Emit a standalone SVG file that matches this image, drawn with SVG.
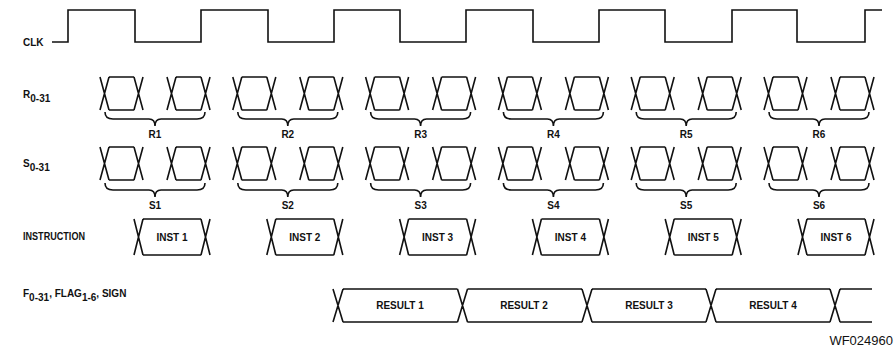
<svg xmlns="http://www.w3.org/2000/svg" width="895" height="350" viewBox="0 0 895 350">
<style>
.w{fill:none;stroke:#111;stroke-width:1.6;stroke-linejoin:miter}
.t{font-family:"Liberation Sans",Arial,sans-serif;font-weight:bold;font-size:10px;fill:#111}
.c{text-anchor:middle}
.id{font-family:"Liberation Sans",Arial,sans-serif;font-size:13px;fill:#111;text-anchor:end}
</style>
<defs>
<path id="cell" class="w" d="M0,0 L9,33 M9,0 L0,33 M9,0 H34 M9,33 H34 M34,0 L43,33 M43,0 L34,33"/>
<path id="brace" class="w" d="M0,0 Q0,7 8,7 H44 Q50,7 50,14 Q50,7 56,7 H92 Q100,7 100,0"/>
<path id="inst" class="w" d="M0,0 L9,36 M9,0 L0,36 M9,0 H67 M9,36 H67 M67,0 L76,36 M76,0 L67,36"/>
</defs>

<g id="labels">
<text class="t" x="23" y="46">CLK</text>
<text class="t" x="23" y="98" font-size="11">R<tspan dy="4" font-size="10">0-31</tspan></text>
<text class="t" x="23" y="167" font-size="11">S<tspan dy="4" font-size="10">0-31</tspan></text>
<text class="t" x="23" y="240" textLength="62" lengthAdjust="spacingAndGlyphs">INSTRUCTION</text>
<text class="t" x="23" y="297">F<tspan dy="4">0-31</tspan><tspan dy="-4">, FLAG</tspan><tspan dy="4">1-6</tspan><tspan dy="-4">, SIGN</tspan></text>
<text class="id" x="893" y="345">WF024960</text>
</g>

<g id="clk">
<path class="w" d="M52,42 H68 V10 H135 V42 H201 V10 H268 V42 H334 V10 H400 V42 H466 V10 H533 V42 H599 V10 H665 V42 H732 V10 H797 V42 H865 V10 H882"/>
</g>

<g id="r-row">
<use href="#cell" x="100" y="77"/><use href="#cell" x="167" y="77"/>
<use href="#cell" x="232.8" y="77"/><use href="#cell" x="299.8" y="77"/>
<use href="#cell" x="365.6" y="77"/><use href="#cell" x="432.6" y="77"/>
<use href="#cell" x="498.4" y="77"/><use href="#cell" x="565.4" y="77"/>
<use href="#cell" x="631.2" y="77"/><use href="#cell" x="698.2" y="77"/>
<use href="#cell" x="764" y="77"/><use href="#cell" x="831" y="77"/>
<use href="#brace" x="105" y="112"/><use href="#brace" x="237.8" y="112"/><use href="#brace" x="370.6" y="112"/>
<use href="#brace" x="503.4" y="112"/><use href="#brace" x="636.2" y="112"/><use href="#brace" x="769" y="112"/>
<text class="t c" x="155" y="138">R1</text><text class="t c" x="287.8" y="138">R2</text><text class="t c" x="420.6" y="138">R3</text>
<text class="t c" x="553.4" y="138">R4</text><text class="t c" x="686.2" y="138">R5</text><text class="t c" x="819" y="138">R6</text>
</g>

<g id="s-row">
<use href="#cell" x="100" y="147"/><use href="#cell" x="167" y="147"/>
<use href="#cell" x="232.8" y="147"/><use href="#cell" x="299.8" y="147"/>
<use href="#cell" x="365.6" y="147"/><use href="#cell" x="432.6" y="147"/>
<use href="#cell" x="498.4" y="147"/><use href="#cell" x="565.4" y="147"/>
<use href="#cell" x="631.2" y="147"/><use href="#cell" x="698.2" y="147"/>
<use href="#cell" x="764" y="147"/><use href="#cell" x="831" y="147"/>
<use href="#brace" x="105" y="183"/><use href="#brace" x="237.8" y="183"/><use href="#brace" x="370.6" y="183"/>
<use href="#brace" x="503.4" y="183"/><use href="#brace" x="636.2" y="183"/><use href="#brace" x="769" y="183"/>
<text class="t c" x="155" y="209">S1</text><text class="t c" x="287.8" y="209">S2</text><text class="t c" x="420.6" y="209">S3</text>
<text class="t c" x="553.4" y="209">S4</text><text class="t c" x="686.2" y="209">S5</text><text class="t c" x="819" y="209">S6</text>
</g>

<g id="inst-row">
<use href="#inst" x="134" y="219"/><use href="#inst" x="266.8" y="219"/><use href="#inst" x="399.6" y="219"/>
<use href="#inst" x="532.4" y="219"/><use href="#inst" x="665.2" y="219"/><use href="#inst" x="798" y="219"/>
<text class="t c" x="172" y="241">INST 1</text><text class="t c" x="304.8" y="241">INST 2</text><text class="t c" x="437.6" y="241">INST 3</text>
<text class="t c" x="570.4" y="241">INST 4</text><text class="t c" x="703.2" y="241">INST 5</text><text class="t c" x="836" y="241">INST 6</text>
</g>

<g id="result-row">
<path class="w" d="M333,289 L343,322 M343,289 L333,322 M343,289 H457.5 M343,322 H457.5
M457.5,289 L467.5,322 M467.5,289 L457.5,322 M467.5,289 H582 M467.5,322 H582
M582,289 L592,322 M592,289 L582,322 M592,289 H706 M592,322 H706
M706,289 L716,322 M716,289 L706,322 M716,289 H830 M716,322 H830
M830,289 L840,322 M840,289 L830,322 M840,289 H872 M840,322 H872"/>
<text class="t c" x="400" y="309">RESULT 1</text><text class="t c" x="524" y="309">RESULT 2</text>
<text class="t c" x="649" y="309">RESULT 3</text><text class="t c" x="773" y="309">RESULT 4</text>
</g>
</svg>
